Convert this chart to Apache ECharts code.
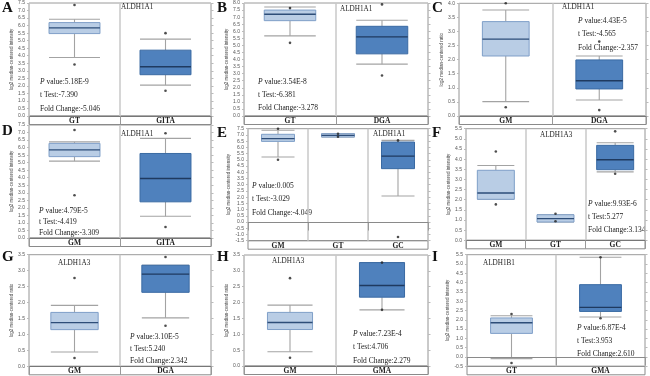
<!DOCTYPE html>
<html>
<head>
<meta charset="utf-8">
<script src="https://cdn.jsdelivr.net/npm/echarts@6/dist/echarts.min.js"></script>
<style>
  html, body { margin: 0; padding: 0; background: #fff; }
  #chart { width: 650px; height: 376px; }
</style>
</head>
<body>
<div id="chart"></div>
<script>
// panel data, A..I
const panelLetters = ['A', 'B', 'C', 'D', 'E', 'F', 'G', 'H', 'I'];
const genes = ['ALDH1A1', 'ALDH1A1', 'ALDH1A1', 'ALDH1A1', 'ALDH1A1', 'ALDH1A3', 'ALDH1A3', 'ALDH1A3', 'ALDH1B1'];
const categories = [
    ['GT', 'GITA'], ['GT', 'DGA'], ['GM', 'DGA'],
    ['GM', 'GITA'], ['GM', 'GT', 'GC'], ['GM', 'GT', 'GC'],
    ['GM', 'DGA'], ['GM', 'GMA'], ['GT', 'GMA']
];
// [low, q1, median, q3, high] per group
const boxStats = [
    [[3.88, 5.47, 5.85, 6.2, 6.42], [2.05, 2.74, 3.27, 4.37, 5.1]],
    [[5.67, 6.75, 7.2, 7.5, 7.72], [3.67, 4.4, 5.6, 6.35, 6.78]],
    [[0.51, 2.13, 2.73, 3.35, 3.76], [0.57, 0.96, 1.25, 1.99, 2.13]],
    [[5.1, 5.4, 5.85, 6.28, 6.38], [1.44, 2.4, 3.95, 5.61, 6.61]],
    [[5.22, 6.48, 6.7, 7.05, 7.37], [6.83, 6.83, 6.96, 7.1, 7.1], [2.09, 4.29, 5.3, 6.43, 6.56]],
    [[2.02, 2.02, 2.33, 3.45, 3.69], [0.9, 0.9, 1.07, 1.26, 1.26], [3.37, 3.48, 3.97, 4.68, 4.81]],
    [[0.45, 1.15, 1.37, 1.69, 1.91], [1.52, 2.32, 2.89, 3.17, 3.17]],
    [[0.45, 1.15, 1.37, 1.69, 1.92], [1.77, 2.17, 2.54, 3.26, 3.26]],
    [[-0.09, 1.27, 1.84, 2.1, 2.22], [2.15, 2.45, 2.67, 3.89, 5.36]]
];
// [group index, value]
const outliers = [
    [[0, 7.37], [0, 3.42], [1, 5.5], [1, 1.68]],
    [[0, 7.65], [0, 5.18], [1, 7.9], [1, 2.87]],
    [[0, 4.0], [0, 0.31], [1, 2.64], [1, 0.21]],
    [[0, 7.17], [0, 2.84], [1, 6.95], [1, 0.73]],
    [[0, 7.5], [0, 5.0], [1, 7.1], [1, 6.85], [2, 6.56], [2, -1.2]],
    [[0, 4.38], [0, 1.77], [1, 1.31], [1, 0.94], [2, 5.37], [2, 3.28]],
    [[0, 2.77], [0, 0.26], [1, 3.43], [1, 1.27]],
    [[0, 2.77], [0, 0.26], [1, 3.26], [1, 1.77]],
    [[0, 2.31], [0, -0.32], [1, 5.36], [1, 2.08]]
];
const yRanges = [[0, 7.5], [0, 8], [0, 4], [0, 7.5], [-1.5, 7.5], [0, 5.5], [0, 3.5], [0, 3.5], [-0.5, 5.5]];
const yTitles = ['intensity', 'intensity', 'ratio', 'intensity', 'intensity', 'intensity', 'ratio', 'ratio', 'intensity'];
const pValues = ['5.18E-9', '3.54E-8', '4.43E-5', '4.79E-5', '0.005', '9.93E-6', '3.10E-5', '7.23E-4', '6.87E-4'];
const tTests = ['-7.390', '-6.381', '-4.565', '-4.419', '-3.029', '5.277', '5.240', '4.706', '3.953'];
const foldChanges = ['-5.046', '-3.278', '-2.357', '-3.309', '-4.049', '3.134', '2.342', '2.279', '2.610'];

// layout (pixels): plot rect, gene label, stats block, letter
const plots = [
    [29, 3, 211, 116], [244, 3, 428, 116], [459, 3.3, 646, 116],
    [29, 125, 211, 238], [248, 128.7, 428, 240.7], [466, 128.7, 645, 240.3],
    [29, 254.7, 211, 366.3], [244, 255, 428, 366], [467, 254.7, 645, 366.3]
];
const genePos = [[121, 7], [340, 9], [562, 7], [121, 134], [373, 134], [540, 135], [58, 263], [272, 261], [483, 263]];
const statPos = [[40, 82, 13.5], [258, 82, 13], [578, 21, 13.5], [39, 211, 11], [252, 186, 13.5], [588, 204, 13], [130, 337, 12], [353, 334, 13.5], [577, 328, 13]];
const letterPos = [[2, 1], [217, 1], [432, 1], [2, 124], [217, 126], [432, 126], [2, 250], [217, 250], [432, 250]];
const boxFrac = [0.56, 0.56, 0.5, 0.56, 0.55, 0.62, 0.52, 0.49, 0.47];

const SERIF = '"Liberation Serif", "DejaVu Serif", serif';
const chart = echarts.init(document.getElementById('chart'));

function makeRender(nCats, frac) {
    return function (params, api) {
        const c = api.value(0);
        const p = k => api.coord([c, api.value(k)]);
        const lo = p(1), q1 = p(2), md = p(3), q3 = p(4), hi = p(5);
        const w = api.size([1, 0])[0] * frac;
        const x = lo[0], x0 = x - w / 2;
        const dark = c === nCats - 1;
        const whisk = {stroke: '#a3a3a3', lineWidth: 1.1};
        return {
            type: 'group',
            children: [
                {type: 'line', shape: {x1: x, y1: hi[1], x2: x, y2: q3[1]}, style: whisk},
                {type: 'line', shape: {x1: x, y1: q1[1], x2: x, y2: lo[1]}, style: whisk},
                {type: 'line', shape: {x1: x0, y1: hi[1], x2: x0 + w, y2: hi[1]}, style: whisk},
                {type: 'line', shape: {x1: x0, y1: lo[1], x2: x0 + w, y2: lo[1]}, style: whisk},
                {
                    type: 'rect', shape: {x: x0, y: q3[1], width: w, height: Math.max(q1[1] - q3[1], 1)},
                    style: {fill: dark ? '#4f81bd' : '#b9cde5', stroke: dark ? '#3a6aa3' : '#7f9fc8', lineWidth: 1}
                },
                {
                    type: 'line', shape: {x1: x0, y1: md[1], x2: x0 + w, y2: md[1]},
                    style: {stroke: dark ? '#1f3a60' : '#2d4d78', lineWidth: 1.4}
                }
            ]
        };
    };
}

const grid = [], xAxis = [], yAxis = [], series = [], graphic = [];
panelLetters.forEach((letter, i) => {
    const [l, t, r, b] = plots[i];
    const cats = categories[i];
    grid.push({left: l, top: t, width: r - l, height: b - t, show: true, borderColor: '#9a9a9a', borderWidth: 1});
    xAxis.push({
        type: 'category', gridIndex: i, data: cats,
        axisLine: {lineStyle: {color: '#777', width: 1}},
        axisTick: {show: true, length: 8.5, lineStyle: {color: '#999'}},
        axisLabel: {margin: 1, fontFamily: SERIF, fontSize: 7.5, fontWeight: 'bold', color: '#222'},
        splitLine: {show: true, lineStyle: {color: '#c9c9c9', width: 1.5}}
    });
    yAxis.push({
        type: 'value', gridIndex: i, min: yRanges[i][0], max: yRanges[i][1], interval: 0.5,
        name: 'log2 median-centered ' + yTitles[i], nameLocation: 'middle', nameGap: 15,
        nameTextStyle: {fontSize: 4.5, color: '#444', fontFamily: 'Liberation Sans'},
        axisLine: {show: false},
        axisTick: {show: true, length: 2, lineStyle: {color: '#bbb'}},
        axisLabel: {fontSize: 5, color: '#555', margin: 4, formatter: v => v.toFixed(1)},
        splitLine: {show: false}
    });
    // right-hand tick marks
    yAxis.push({
        type: 'value', gridIndex: i, position: 'right', min: yRanges[i][0], max: yRanges[i][1], interval: 0.5,
        axisLine: {show: false},
        axisTick: {show: true, length: 2.5, lineStyle: {color: '#bbb'}},
        axisLabel: {show: false},
        splitLine: {show: false}
    });
    const yi = i * 2;
    const boxData = boxStats[i].map((s, k) => [k].concat(s));
    const boxSeries = {
        type: 'custom', xAxisIndex: i, yAxisIndex: yi, data: boxData,
        renderItem: makeRender(cats.length, boxFrac[i]), silent: true
    };
    if (yRanges[i][0] < 0) {
        boxSeries.markLine = {
            silent: true, symbol: 'none', label: {show: false},
            lineStyle: {color: '#8a8a8a', type: 'solid', width: 1.2},
            data: [{yAxis: 0}]
        };
    }
    series.push(boxSeries);
    series.push({
        type: 'scatter', xAxisIndex: i, yAxisIndex: yi, data: outliers[i],
        symbolSize: 2.6, itemStyle: {color: '#222'}, silent: true, z: 5
    });
    // category band under each plot
    graphic.push({
        type: 'rect', shape: {x: l, y: b, width: r - l, height: 8.5},
        style: {fill: 'none', stroke: '#8a8a8a', lineWidth: 1}, silent: true
    });
    graphic.push({
        type: 'text', left: letterPos[i][0], top: letterPos[i][1],
        style: {text: letter, font: 'bold 15px ' + SERIF, fill: '#111'}
    });
    graphic.push({
        type: 'text', x: genePos[i][0], y: genePos[i][1],
        style: {text: genes[i], fontFamily: SERIF, fontSize: 7.2, fill: '#222', verticalAlign: 'middle'}
    });
    const [sx, sy, gap] = statPos[i];
    const lines = ['{i|P} value:' + pValues[i], 't Test:' + tTests[i], 'Fold Change:' + foldChanges[i]];
    lines.forEach((txt, k) => {
        graphic.push({
            type: 'text', x: sx, y: sy + k * gap,
            style: {
                text: txt, fontFamily: SERIF, fontSize: 7.5, fill: '#222', verticalAlign: 'middle',
                rich: {i: {fontFamily: SERIF, fontSize: 7.5, fontStyle: 'italic', fill: '#222'}}
            }
        });
    });
});

chart.setOption({
    animation: false,
    backgroundColor: '#fff',
    grid: grid,
    xAxis: xAxis,
    yAxis: yAxis,
    series: series,
    graphic: graphic
});
</script>
</body>
</html>
